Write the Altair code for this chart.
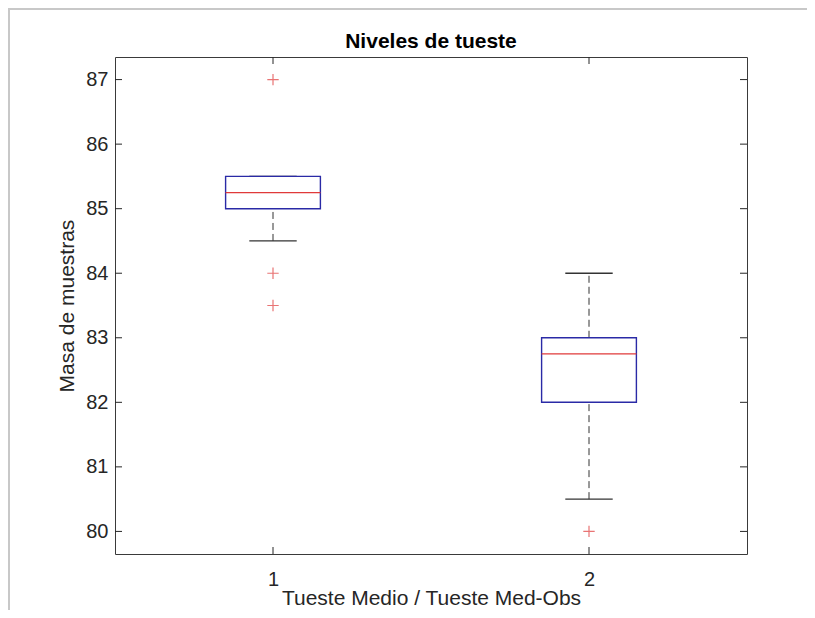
import altair as alt
import pandas as pd

# ---- data ----
title_text = "Niveles de tueste"
groups = [1, 2]
q1 = [85.0, 82.0]
median = [85.25, 82.75]
q3 = [85.5, 83.0]
whisker_low = [84.5, 80.5]
whisker_high = [85.5, 84.0]
outlier_group = [1, 1, 1, 2]
outlier_value = [87.0, 84.0, 83.5, 80.0]
y_ticks = [80, 81, 82, 83, 84, 85, 86, 87]
x_ticks = [1, 2]

W, H = 632, 497
FONT = "Liberation Sans"
AX = "#262626"

boxes = pd.DataFrame(dict(g=groups, q1=q1, med=median, q3=q3,
                          lo=whisker_low, hi=whisker_high))
outl = pd.DataFrame(dict(g=outlier_group, v=outlier_value))
yt = pd.DataFrame(dict(v=y_ticks))
xt = pd.DataFrame(dict(v=x_ticks))
tt = pd.DataFrame(dict(t=[title_text]))

xscale = alt.Scale(domain=[0.5, 2.5], nice=False, zero=False)
yscale = alt.Scale(domain=[79.65, 87.35], nice=False, zero=False)

xaxis = alt.Axis(values=x_ticks, format="d", ticks=False, domain=False, grid=False,
                 labelFontSize=20, labelFont=FONT, labelColor=AX, labelPadding=15,
                 title="Tueste Medio / Tueste Med-Obs", titleFontSize=21,
                 titleFont=FONT, titleFontWeight="normal", titleColor=AX,
                 titleY=44, titleBaseline="middle")
yaxis = alt.Axis(values=y_ticks, format="d", ticks=False, domain=False, grid=False,
                 labelFontSize=20, labelFont=FONT, labelColor=AX, labelPadding=7,
                 title="Masa de muestras", titleFontSize=21, titleFont=FONT,
                 titleFontWeight="normal", titleColor=AX, titleX=-48,
                 titleY=H / 2, titleAngle=-90, titleAlign="center",
                 titleBaseline="middle")


def X(f):
    return alt.X(f, type="quantitative", scale=xscale, axis=xaxis)


def Y(f):
    return alt.Y(f, type="quantitative", scale=yscale, axis=yaxis)


base = alt.Chart(boxes).transform_calculate(
    x0="datum.g - 0.15", x1="datum.g + 0.15",
    c0="datum.g - 0.075", c1="datum.g + 0.075")

whisk_up = base.mark_rule(color="#333333", strokeWidth=1, strokeDash=[7, 4]).encode(
    x=X("g"), y=Y("q3"), y2="hi")
whisk_lo = base.mark_rule(color="#333333", strokeWidth=1, strokeDash=[7, 4]).encode(
    x=X("g"), y=Y("lo"), y2="q1")
cap_hi = base.mark_rule(color="#333333", strokeWidth=1.3).encode(
    x=X("c0"), x2="c1", y=Y("hi"))
cap_lo = base.mark_rule(color="#333333", strokeWidth=1.3).encode(
    x=X("c0"), x2="c1", y=Y("lo"))
box = base.mark_rect(fill=None, fillOpacity=0, stroke="#2a2aa6", strokeWidth=1.4).encode(
    x=X("x0"), x2="x1", y=Y("q1"), y2="q3")
med = base.mark_rule(color="#e03a3a", strokeWidth=1.3).encode(
    x=X("x0"), x2="x1", y=Y("med"))
pts = alt.Chart(outl).mark_point(shape="M-1,0L1,0M0,-1L0,1", size=130, filled=False,
                                 stroke="#e03a3a", strokeWidth=1.2).encode(
    x=X("g"), y=Y("v"))

# inward tick marks on all four sides
ytl = alt.Chart(yt).mark_rule(color=AX, strokeWidth=1).encode(
    y=Y("v"), x=alt.value(0), x2=alt.value(7))
ytr = alt.Chart(yt).mark_rule(color=AX, strokeWidth=1).encode(
    y=Y("v"), x=alt.value(W - 7), x2=alt.value(W))
xtb = alt.Chart(xt).mark_rule(color=AX, strokeWidth=1).encode(
    x=X("v"), y=alt.value(H - 7), y2=alt.value(H))
xtt = alt.Chart(xt).mark_rule(color=AX, strokeWidth=1).encode(
    x=X("v"), y=alt.value(0), y2=alt.value(7))

# light grey frame of the screenshot (left and top edges)
frame_top = alt.Chart(xt).mark_rule(color="#c8c8c8", strokeWidth=2).encode(
    x=alt.value(-107), x2=alt.value(692), y=alt.value(-48))
frame_left = alt.Chart(xt).mark_rule(color="#c8c8c8", strokeWidth=2).encode(
    x=alt.value(-106), y=alt.value(-48), y2=alt.value(553))

title = alt.Chart(tt).mark_text(font=FONT, fontSize=21, fontWeight="bold",
                                color="#000000", align="center",
                                baseline="alphabetic").encode(
    text="t", x=alt.value(W / 2), y=alt.value(-9))

chart = alt.layer(
    frame_top, frame_left, whisk_up, whisk_lo, cap_hi, cap_lo, box, med, pts,
    ytl, ytr, xtb, xtt, title
).properties(
    width=W, height=H,
    autosize=alt.AutoSizeParams(type="none"),
    padding={"left": 107, "top": 49, "right": 60, "bottom": 56},
    background="white",
).configure_view(
    stroke="#3a3a3a", strokeWidth=1
)

chart.save("out.html", embed_options={"renderer": "svg", "actions": False})
